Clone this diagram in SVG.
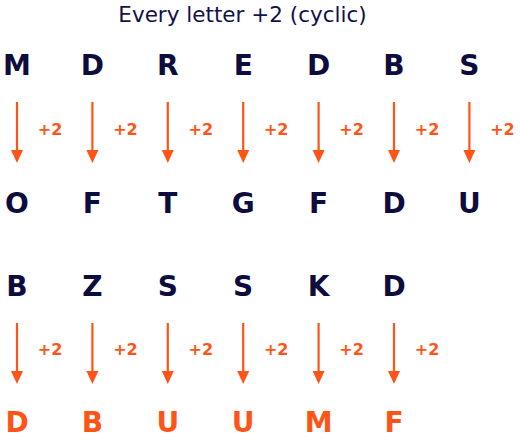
<svg xmlns="http://www.w3.org/2000/svg" width="520" height="439" viewBox="0 0 520 439">
<style>
.t{font-family:"DejaVu Sans",sans-serif;font-size:21.5px;fill:#14104a}
.l{font-family:"DejaVu Sans",sans-serif;font-weight:bold;font-size:28px;fill:#0e0b3d;text-anchor:middle}
.o{fill:#ff5417}
.p{font-family:"DejaVu Sans",sans-serif;font-weight:bold;font-size:16px;fill:#ff5417;text-anchor:middle}
.a{stroke:#ff5417;stroke-width:2.2;fill:none}
.h{fill:#ff5417}
</style>
<rect width="520" height="439" fill="#ffffff"/>
<text class="t" x="242.5" y="22" text-anchor="middle">Every letter +2 (cyclic)</text>
<g id="connectors">
<g id="c-row1">
<line class="a" x1="17" y1="102" x2="17" y2="150"/><path class="h" d="M11,150 L23,150 L17,163 Z"/>
<line class="a" x1="92.4" y1="102" x2="92.4" y2="150"/><path class="h" d="M86.4,150 L98.4,150 L92.4,163 Z"/>
<line class="a" x1="167.8" y1="102" x2="167.8" y2="150"/><path class="h" d="M161.8,150 L173.8,150 L167.8,163 Z"/>
<line class="a" x1="243.2" y1="102" x2="243.2" y2="150"/><path class="h" d="M237.2,150 L249.2,150 L243.2,163 Z"/>
<line class="a" x1="318.6" y1="102" x2="318.6" y2="150"/><path class="h" d="M312.6,150 L324.6,150 L318.6,163 Z"/>
<line class="a" x1="394" y1="102" x2="394" y2="150"/><path class="h" d="M388,150 L400,150 L394,163 Z"/>
<line class="a" x1="469.4" y1="102" x2="469.4" y2="150"/><path class="h" d="M463.4,150 L475.4,150 L469.4,163 Z"/>
<text class="p" x="50" y="135">+2</text>
<text class="p" x="125.4" y="135">+2</text>
<text class="p" x="200.8" y="135">+2</text>
<text class="p" x="276.2" y="135">+2</text>
<text class="p" x="351.6" y="135">+2</text>
<text class="p" x="427" y="135">+2</text>
<text class="p" x="502.4" y="135">+2</text>
</g>
<g id="c-row2">
<line class="a" x1="17" y1="323" x2="17" y2="371"/><path class="h" d="M11,371 L23,371 L17,384 Z"/>
<line class="a" x1="92.4" y1="323" x2="92.4" y2="371"/><path class="h" d="M86.4,371 L98.4,371 L92.4,384 Z"/>
<line class="a" x1="167.8" y1="323" x2="167.8" y2="371"/><path class="h" d="M161.8,371 L173.8,371 L167.8,384 Z"/>
<line class="a" x1="243.2" y1="323" x2="243.2" y2="371"/><path class="h" d="M237.2,371 L249.2,371 L243.2,384 Z"/>
<line class="a" x1="318.6" y1="323" x2="318.6" y2="371"/><path class="h" d="M312.6,371 L324.6,371 L318.6,384 Z"/>
<line class="a" x1="394" y1="323" x2="394" y2="371"/><path class="h" d="M388,371 L400,371 L394,384 Z"/>
<text class="p" x="50" y="355">+2</text>
<text class="p" x="125.4" y="355">+2</text>
<text class="p" x="200.8" y="355">+2</text>
<text class="p" x="276.2" y="355">+2</text>
<text class="p" x="351.6" y="355">+2</text>
<text class="p" x="427" y="355">+2</text>
</g>
</g>
<g id="n-r1-M"><text class="l" x="17" y="75">M</text></g>
<g id="n-r1-D"><text class="l" x="92.4" y="75">D</text></g>
<g id="n-r1-R"><text class="l" x="167.8" y="75">R</text></g>
<g id="n-r1-E"><text class="l" x="243.2" y="75">E</text></g>
<g id="n-r1-D2"><text class="l" x="318.6" y="75">D</text></g>
<g id="n-r1-B"><text class="l" x="394" y="75">B</text></g>
<g id="n-r1-S"><text class="l" x="469.4" y="75">S</text></g>
<g id="n-r1o-O"><text class="l" x="17" y="213">O</text></g>
<g id="n-r1o-F"><text class="l" x="92.4" y="213">F</text></g>
<g id="n-r1o-T"><text class="l" x="167.8" y="213">T</text></g>
<g id="n-r1o-G"><text class="l" x="243.2" y="213">G</text></g>
<g id="n-r1o-F2"><text class="l" x="318.6" y="213">F</text></g>
<g id="n-r1o-D"><text class="l" x="394" y="213">D</text></g>
<g id="n-r1o-U"><text class="l" x="469.4" y="213">U</text></g>
<g id="n-r2-B"><text class="l" x="17" y="296">B</text></g>
<g id="n-r2-Z"><text class="l" x="92.4" y="296">Z</text></g>
<g id="n-r2-S"><text class="l" x="167.8" y="296">S</text></g>
<g id="n-r2-S2"><text class="l" x="243.2" y="296">S</text></g>
<g id="n-r2-K"><text class="l" x="318.6" y="296">K</text></g>
<g id="n-r2-D"><text class="l" x="394" y="296">D</text></g>
<g id="n-r2o-D"><text class="l o" x="17" y="432">D</text></g>
<g id="n-r2o-B"><text class="l o" x="92.4" y="432">B</text></g>
<g id="n-r2o-U"><text class="l o" x="167.8" y="432">U</text></g>
<g id="n-r2o-U2"><text class="l o" x="243.2" y="432">U</text></g>
<g id="n-r2o-M"><text class="l o" x="318.6" y="432">M</text></g>
<g id="n-r2o-F"><text class="l o" x="394" y="432">F</text></g>
</svg>
